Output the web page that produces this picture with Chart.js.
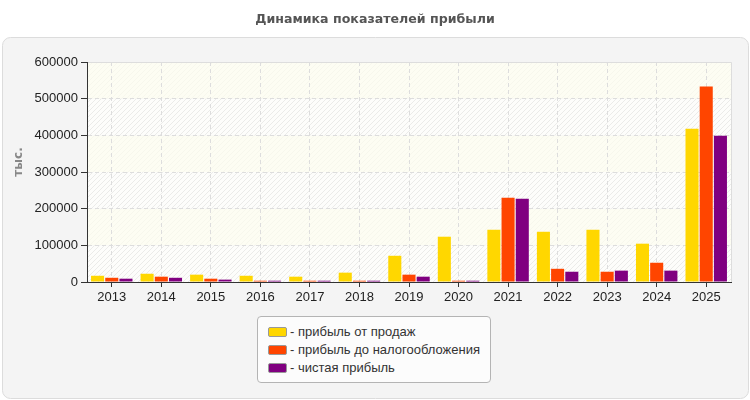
<!DOCTYPE html>
<html>
<head>
<meta charset="utf-8">
<script src="https://cdn.jsdelivr.net/npm/chart.js@4.4.1/dist/chart.umd.min.js"></script>
<style>
	body { margin: 0; background: #fff; font-family: "Liberation Sans", Arial, sans-serif; }
	#wrap { position: relative; width: 750px; height: 400px; }
	#legend {
		position: absolute; left: 257px; top: 316px; width: 234px; height: 67px;
		box-sizing: border-box; border: 1px solid #b4b4b4; border-radius: 4px;
		background: #fcfcfc; padding: 6px 0 0 10px;
	}
	.item { height: 18px; line-height: 18px; font-size: 13px; color: #333; white-space: nowrap; }
	.sw {
		display: inline-block; width: 17px; height: 8px; border: 1px solid #999;
		border-radius: 2px; vertical-align: middle; margin-right: 3px; position: relative; top: -1px;
	}
</style>
</head>
<body>
<div id="wrap">
	<canvas id="profitChart" width="750" height="400"></canvas>
	<div id="legend"></div>
</div>
<script>
var years = ['2013', '2014', '2015', '2016', '2017', '2018', '2019', '2020', '2021', '2022', '2023', '2024', '2025'];
var salesProfit = [17000, 22500, 20000, 17000, 14500, 25500, 71500, 123500, 142500, 137000, 142500, 104500, 418000];
var preTaxProfit = [11500, 14500, 9000, 3500, 3500, 3500, 20000, 3500, 230000, 36000, 28000, 52500, 533000];
var netProfit = [9000, 11500, 6500, 3500, 3500, 3500, 14500, 3500, 227000, 28000, 31000, 31000, 399000];
var seriesNames = ['- прибыль от продаж', '- прибыль до налогообложения', '- чистая прибыль'];
var seriesColors = ['#FFD700', '#FF4500', '#800080'];
var yTicks = [0, 100000, 200000, 300000, 400000, 500000, 600000];

// diagonal hatch for the plot bands
function makeHatch(alpha) {
	var c = document.createElement('canvas');
	c.width = 5; c.height = 5;
	var g = c.getContext('2d');
	g.strokeStyle = 'rgba(0,0,0,' + alpha + ')';
	g.lineWidth = 1;
	g.beginPath();
	g.moveTo(-1, 6); g.lineTo(6, -1);
	g.moveTo(-1, 1); g.lineTo(1, -1);
	g.moveTo(4, 6); g.lineTo(6, 4);
	g.stroke();
	return c;
}

var backdrop = {
	id: 'backdrop',
	beforeDraw: function (chart) {
		var ctx = chart.ctx, area = chart.chartArea, y = chart.scales.y;
		ctx.save();
		// outer panel
		ctx.fillStyle = '#f4f4f4';
		ctx.strokeStyle = '#dcdcdc';
		ctx.beginPath();
		ctx.roundRect(2.5, 37.5, 746, 361, 8);
		ctx.fill();
		ctx.stroke();
		// plot bands
		var strong = ctx.createPattern(makeHatch(0.07), 'repeat');
		var weak = ctx.createPattern(makeHatch(0.025), 'repeat');
		for (var i = 0; i < yTicks.length - 1; i++) {
			var top = y.getPixelForValue(yTicks[i + 1]);
			var bot = y.getPixelForValue(yTicks[i]);
			ctx.fillStyle = i % 2 === 0 ? '#fdfdfb' : '#fdfdf3';
			ctx.fillRect(area.left, top, area.width, bot - top);
			ctx.fillStyle = i % 2 === 0 ? strong : weak;
			ctx.fillRect(area.left, top, area.width, bot - top);
		}
		ctx.restore();
	},
	afterDraw: function (chart) {
		var ctx = chart.ctx, area = chart.chartArea;
		ctx.save();
		// light frame top / right
		ctx.strokeStyle = '#dddddd';
		ctx.lineWidth = 1;
		ctx.beginPath();
		ctx.moveTo(area.left, area.top + 0.5);
		ctx.lineTo(area.right + 0.5, area.top + 0.5);
		ctx.lineTo(area.right + 0.5, area.bottom);
		ctx.stroke();
		// solid axis lines
		ctx.strokeStyle = '#333';
		ctx.setLineDash([]);
		ctx.beginPath();
		ctx.moveTo(Math.round(area.left) + 0.5, area.top);
		ctx.lineTo(Math.round(area.left) + 0.5, Math.round(area.bottom) + 0.5);
		ctx.lineTo(area.right + 1, Math.round(area.bottom) + 0.5);
		ctx.stroke();
		// title
		ctx.fillStyle = '#555';
		ctx.font = 'bold 12.6px "DejaVu Sans", Verdana, sans-serif';
		ctx.textAlign = 'center';
		ctx.textBaseline = 'middle';
		ctx.fillText('Динамика показателей прибыли', 375, 20);
		// y axis title
		ctx.translate(19, 162);
		ctx.rotate(-Math.PI / 2);
		ctx.fillStyle = '#888';
		ctx.font = 'bold 12px "DejaVu Sans", Verdana, sans-serif';
		ctx.fillText('тыс.', 0, 0);
		ctx.restore();
	}
};

var tickFont = { size: 13, family: '"Liberation Sans", Arial, sans-serif' };

var ctx = document.getElementById('profitChart');
var profitChart = new Chart(ctx, {
	type: 'bar',
	data: {
		labels: years,
		datasets: [{
			label: seriesNames[0],
			data: salesProfit,
			backgroundColor: seriesColors[0]
		}, {
			label: seriesNames[1],
			data: preTaxProfit,
			backgroundColor: seriesColors[1]
		}, {
			label: seriesNames[2],
			data: netProfit,
			backgroundColor: seriesColors[2]
		}]
	},
	options: {
		responsive: false,
		animation: false,
		layout: { padding: { left: 0, right: 19, top: 62, bottom: 88 } },
		datasets: { bar: { categoryPercentage: 0.86, barPercentage: 0.92 } },
		plugins: {
			legend: { display: false },
			title: { display: false },
			tooltip: { enabled: false }
		},
		scales: {
			x: {
				grid: {
					offset: false, color: '#dddddd', tickBorderDash: [],
					tickColor: '#333', tickLength: 5
				},
				border: { color: '#333', dash: [4, 3] },
				ticks: { color: '#222', font: tickFont, padding: 3 },
				afterFit: function (scale) { scale.height = 30; }
			},
			y: {
				min: 0,
				max: 600000,
				afterBuildTicks: function (scale) {
					scale.ticks = yTicks.map(function (v) { return { value: v }; });
				},
				grid: {
					color: '#dddddd', tickBorderDash: [],
					tickColor: '#333', tickLength: 6
				},
				border: { color: '#333', dash: [4, 3] },
				ticks: {
					color: '#222', padding: 3, font: tickFont,
					callback: function (v) { return String(v); }
				},
				afterFit: function (scale) { scale.width = 87; }
			}
		}
	},
	plugins: [backdrop]
});

// legend built from the datasets
var legend = document.getElementById('legend');
profitChart.data.datasets.forEach(function (ds) {
	var row = document.createElement('div');
	row.className = 'item';
	row.innerHTML = '<span class="sw" style="background:' + ds.backgroundColor + '"></span>' + ds.label;
	legend.appendChild(row);
});
</script>
</body>
</html>
